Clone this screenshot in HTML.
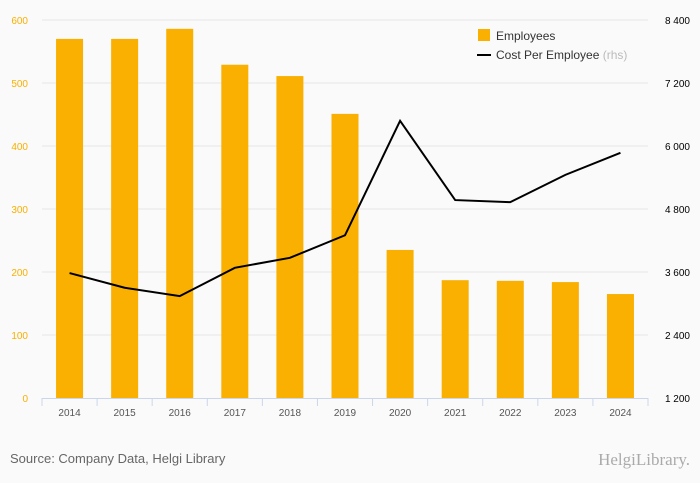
<!DOCTYPE html>
<html><head><meta charset="utf-8"><style>
body{margin:0;background:#fafafa;font-family:"Liberation Sans",sans-serif;}
svg{display:block}
</style></head><body>
<svg id="c" width="700" height="483">
<rect width="700" height="483" fill="#fafafa"/>
<g id="grid"></g><g id="bars"></g><g id="axes"></g><g id="line"></g>
<g>
<rect x="478" y="29" width="12" height="12" fill="#f9b000"/>
<text x="496" y="40" font-size="12" fill="#333">Employees</text>
<line x1="477" y1="55" x2="491" y2="55" stroke="#000" stroke-width="2"/>
<text x="496" y="59" font-size="12" fill="#333">Cost Per Employee <tspan fill="#bbb">(rhs)</tspan></text>
</g>
<text x="10" y="463" font-size="13" fill="#666">Source: Company Data, Helgi Library</text>
<text x="690" y="465" font-size="17" fill="#aaa" text-anchor="end" font-family="Liberation Serif,serif">HelgiLibrary.</text>
</svg>
<script>
const years=["2014","2015","2016","2017","2018","2019","2020","2021","2022","2023","2024"];
const employees=[570,570,586,529,511,451,235,187,186,184,165];
const cost=[3580,3300,3140,3680,3870,4300,6480,4970,4930,5450,5870];
const leftTicks=[0,100,200,300,400,500,600];
const rightTicks=["1 200","2 400","3 600","4 800","6 000","7 200","8 400"];
const rightVals=[1200,2400,3600,4800,6000,7200,8400];
const X0=42,X1=648,Y0=398,Y1=20,cw=(X1-X0)/years.length;
const yL=v=>Y0-(v/600)*(Y0-Y1);
const yR=v=>Y0-((v-1200)/7200)*(Y0-Y1);
const xC=i=>X0+cw*(i+0.5);
const NS="http://www.w3.org/2000/svg";
function mk(t,a,p){const e=document.createElementNS(NS,t);for(const k in a)e.setAttribute(k,a[k]);p.appendChild(e);return e;}
const g=document.getElementById('grid'),b=document.getElementById('bars'),ax=document.getElementById('axes'),ln=document.getElementById('line');
leftTicks.forEach((v,i)=>{
 if(v>0){const l=mk('line',{x1:X0,x2:X1,y1:yL(v),y2:yL(v),stroke:'#e6e6e6'},g);
 
 }
 const t=mk('text',{x:28,y:yL(v)+4,'font-size':10,fill:'#f9b000','text-anchor':'end'},ax);t.textContent=v;
 
 
});
rightVals.forEach((v,i)=>{
 const t=mk('text',{x:690,y:yR(v)+4,'font-size':10,fill:'#000','text-anchor':'end'},ax);t.textContent=rightTicks[i];
 
 
});
years.forEach((y,i)=>{
 const r=mk('rect',{x:xC(i)-13.5,y:yL(employees[i]),width:27,height:Y0-yL(employees[i]),fill:'#f9b000'},b);
 
 
 const t=mk('text',{x:xC(i),y:416,'font-size':10,fill:'#555','text-anchor':'middle'},ax);t.textContent=y;
 
 
});
for(let i=0;i<=years.length;i++){mk('line',{x1:X0+cw*i,x2:X0+cw*i,y1:Y0,y2:Y0+8,stroke:'#ccd6eb'},ax);}
const al=mk('line',{x1:X0,x2:X1,y1:Y0+0.5,y2:Y0+0.5,stroke:'#ccd6eb'},ax);


const p=mk('polyline',{points:cost.map((v,i)=>xC(i)+','+yR(v)).join(' '),fill:'none',stroke:'#000','stroke-width':2},ln);


</script>
</body></html>
